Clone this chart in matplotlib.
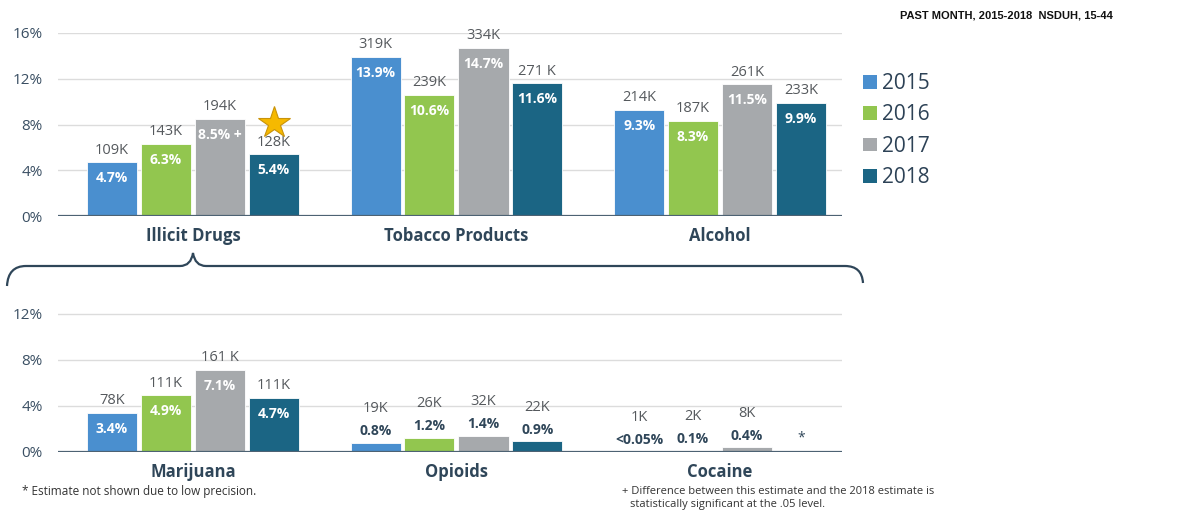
import matplotlib.pyplot as plt
from matplotlib.patches import Patch, PathPatch
from matplotlib.path import Path

W, H = 1180, 514
plt.rcParams["font.family"] = ["Open Sans", "DejaVu Sans"]

YEARS = ["2015", "2016", "2017", "2018"]
COLORS = ["#4a8fcf", "#92c64f", "#a6a9ac", "#1b6584"]

# top panel: overall substance groups
TOP_CATS = ["Illicit Drugs", "Tobacco Products", "Alcohol"]
TOP_PCT = [[4.7, 13.9, 9.3],
           [6.3, 10.6, 8.3],
           [8.5, 14.7, 11.5],
           [5.4, 11.6, 9.9]]
TOP_COUNT = [["109K", "319K", "214K"],
             ["143K", "239K", "187K"],
             ["194K", "334K", "261K"],
             ["128K", "271 K", "233K"]]
TOP_FLAG = [["", "", ""], ["", "", ""], ["+", "", ""], ["", "", ""]]

# bottom panel: illicit drug breakdown (None = not shown)
BOT_CATS = ["Marijuana", "Opioids", "Cocaine"]
BOT_PCT = [[3.4, 0.8, 0.03],
           [4.9, 1.2, 0.1],
           [7.1, 1.4, 0.4],
           [4.7, 0.9, None]]
BOT_PCT_LABEL = [["3.4%", "0.8%", "<0.05%"],
                 ["4.9%", "1.2%", "0.1%"],
                 ["7.1%", "1.4%", "0.4%"],
                 ["4.7%", "0.9%", "*"]]
BOT_COUNT = [["78K", "19K", "1K"],
             ["111K", "26K", "2K"],
             ["161 K", "32K", "8K"],
             ["111K", "22K", ""]]

OFFSETS = [-0.307, -0.1025, 0.1025, 0.307]
BAR_W = 0.19
INSIDE_MIN = 2.5   # bars shorter than this get their % label on top

TXT = "#3a4f63"
KCOL = "#55595d"
KSIZE = 10.5
PSIZE = 10


def px_box(left, top, right, bottom):
    return [left / W, 1 - bottom / H, (right - left) / W, (bottom - top) / H]


def style_axes(ax, ymax, ticks, cats):
    ax.set_xlim(-0.512, 2.463)
    ax.set_ylim(0, ymax)
    ax.set_yticks(ticks)
    ax.set_yticklabels([f"{t}%" for t in ticks], fontsize=11, color=TXT)
    ax.set_xticks(range(len(cats)))
    ax.set_xticklabels(cats, fontsize=12, fontweight="bold", color="#2f4659")
    ax.tick_params(axis="both", length=0)
    ax.tick_params(axis="y", pad=11)
    ax.tick_params(axis="x", pad=8)
    for s in ax.spines.values():
        s.set_visible(False)
    for t in ticks[1:]:
        ax.axhline(t, color="#dcdcdc", lw=1, zorder=0)
    ax.axhline(0, color="#4d6273", lw=1.6, zorder=3)


fig = plt.figure(figsize=(W / 100, H / 100), dpi=100)
ax1 = fig.add_axes(px_box(58, 33, 842, 216))
ax2 = fig.add_axes(px_box(58, 308, 842, 451.7))

style_axes(ax1, 16, [0, 4, 8, 12, 16], TOP_CATS)
style_axes(ax2, 12.5, [0, 4, 8, 12], BOT_CATS)

# top panel bars, counts above, percentages inside
for i, year in enumerate(YEARS):
    xs = [c + OFFSETS[i] for c in range(len(TOP_CATS))]
    ax1.bar(xs, TOP_PCT[i], width=BAR_W, color=COLORS[i],
            edgecolor="white", linewidth=0.6, zorder=2)
    for x, v, k, f in zip(xs, TOP_PCT[i], TOP_COUNT[i], TOP_FLAG[i]):
        ax1.annotate(k, (x, v), xytext=(0, 8.8), textcoords="offset points",
                     ha="center", va="center", fontsize=KSIZE, color=KCOL)
        ax1.annotate(f"{v}%" + (f" {f}" if f else ""), (x, v),
                     xytext=(0, -11.5), textcoords="offset points",
                     ha="center", va="center", fontsize=PSIZE,
                     fontweight="bold", color="white")

# significance star over 2018 illicit drugs
ax1.plot(OFFSETS[3], 8.1, marker="*", markersize=24, color="#f6b900",
         markeredgecolor="#c9930a", markeredgewidth=0.8, zorder=4,
         clip_on=False)

# bottom panel
for i, year in enumerate(YEARS):
    xs = [c + OFFSETS[i] for c in range(len(BOT_CATS))]
    heights = [v if v is not None else 0 for v in BOT_PCT[i]]
    ax2.bar(xs, heights, width=BAR_W, color=COLORS[i],
            edgecolor="white", linewidth=0.6, zorder=2)
    for x, v, lab, k in zip(xs, BOT_PCT[i], BOT_PCT_LABEL[i], BOT_COUNT[i]):
        if v is None:
            ax2.annotate(lab, (x, 0), xytext=(0, 10), textcoords="offset points",
                         ha="center", va="center", fontsize=10, color="#2f4659")
        elif v >= INSIDE_MIN:
            ax2.annotate(k, (x, v), xytext=(0, 8.8), textcoords="offset points",
                         ha="center", va="center", fontsize=KSIZE, color=KCOL)
            ax2.annotate(lab, (x, v), xytext=(0, -11.5), textcoords="offset points",
                         ha="center", va="center", fontsize=PSIZE,
                         fontweight="bold", color="white")
        else:
            ax2.annotate(lab, (x, v), xytext=(0, 8.3), textcoords="offset points",
                         ha="center", va="center", fontsize=PSIZE,
                         fontweight="bold", color="#2f4659")
            ax2.annotate(k, (x, v), xytext=(0, 24.5), textcoords="offset points",
                         ha="center", va="center", fontsize=KSIZE, color=KCOL)

# brace linking "Illicit Drugs" to its breakdown
def fp(x, y):
    return (x / W, 1 - y / H)

verts = [fp(7, 286), fp(8, 266), fp(26, 266),
         fp(180, 266), fp(191, 266), fp(193, 253),
         fp(195, 266), fp(206, 266),
         fp(845, 266), fp(862, 266), fp(863, 283)]
codes = [Path.MOVETO, Path.CURVE3, Path.CURVE3,
         Path.LINETO, Path.CURVE3, Path.CURVE3,
         Path.CURVE3, Path.CURVE3,
         Path.LINETO, Path.CURVE3, Path.CURVE3]
fig.patches.append(PathPatch(Path(verts, codes), transform=fig.transFigure,
                             fill=False, edgecolor="#2f4659", lw=1.6))

# legend
handles = [Patch(facecolor=c, label=y) for c, y in zip(COLORS, YEARS)]
fig.legend(handles=handles, loc="upper left", bbox_to_anchor=(863 / W, 1 - 73 / H),
           frameon=False, fontsize=15, handlelength=0.65, handleheight=0.65,
           handletextpad=0.25, labelspacing=0.5, borderpad=0, borderaxespad=0,
           labelcolor="#2d4256")

fig.text(1113 / W, 1 - 16 / H, "PAST MONTH, 2015-2018  NSDUH, 15-44",
         ha="right", va="center", fontsize=8, fontweight="bold",
         family=["Liberation Sans Narrow", "Liberation Sans", "DejaVu Sans"],
         color="#111111")

fig.text(22 / W, 1 - 492 / H, "* Estimate not shown due to low precision.",
         ha="left", va="center", fontsize=8.5, color="#333333")
fig.text(622 / W, 1 - 492 / H,
         "+ Difference between this estimate and the 2018 estimate is",
         ha="left", va="center", fontsize=8, color="#333333")
fig.text(630 / W, 1 - 505 / H, "statistically significant at the .05 level.",
         ha="left", va="center", fontsize=8, color="#333333")

fig.savefig("out.png", dpi=100)
